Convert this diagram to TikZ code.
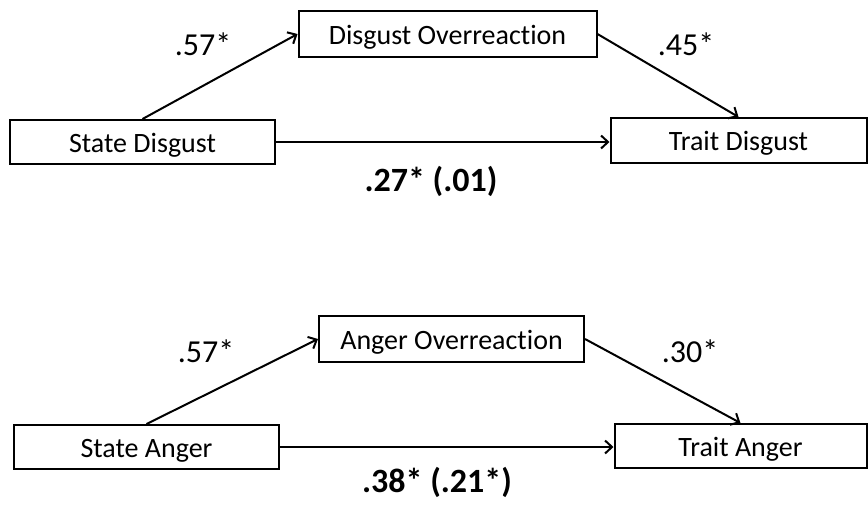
\documentclass[tikz,border=0pt]{standalone}
\usepackage{fontspec}
\setmainfont{Carlito}[Ligatures=NoCommon]
\usetikzlibrary{arrows.meta}

\begin{document}
\begin{tikzpicture}[x=1pt, y=-1pt,
    varbox/.style={draw, line width=2pt, inner sep=0pt, text height=26pt, text depth=6pt, font=\fontsize{28}{32}\selectfont},
    path/.style={line width=2pt, -{Straight Barb[length=7pt, width=13pt, line width=2pt]}},
    coef/.style={anchor=base, inner sep=0pt, font=\fontsize{32}{36}\selectfont},
    total/.style={anchor=base, inner sep=0pt, font=\fontsize{34}{38}\selectfont\bfseries}]
    \useasboundingbox (0, 0) rectangle (868, 507);

    % disgust model
    \node[varbox, minimum width=265pt, minimum height=44pt] (sd) at (142.5, 142) {State Disgust};
    \node[varbox, minimum width=298pt, minimum height=46pt] (do) at (447.5, 34) {Disgust Overreaction};
    \node[varbox, minimum width=256pt, minimum height=45pt] (td) at (738.5, 140.5) {Trait Disgust};

    \draw[path] (sd.north) -- (do.west);
    \draw[path] (do.east) -- (td.north);
    \draw[path] (sd.east) -- (sd.east -| td.west);

    \node[coef] (sdDo) at (203, 55) {.57*};
    \node[coef] (doTd) at (686, 55) {.45*};
    \node[total] (sdTd) at (431, 191) {.27* (.01)};

    % anger model
    \node[varbox, minimum width=265pt, minimum height=44pt] (sa) at (146.5, 447) {State Anger};
    \node[varbox, minimum width=265pt, minimum height=46pt] (ao) at (451.5, 339) {Anger Overreaction};
    \node[varbox, minimum width=252pt, minimum height=44pt] (ta) at (740.5, 446) {Trait Anger};

    \draw[path] (sa.north) -- (ao.west);
    \draw[path] (ao.east) -- (ta.north);
    \draw[path] (sa.east) -- (sa.east -| ta.west);

    \node[coef] (saAo) at (206, 362) {.57*};
    \node[coef] (aoTa) at (690, 362) {.30*};
    \node[total] (saTa) at (437, 492) {.38* (.21*)};
\end{tikzpicture}
\end{document}
